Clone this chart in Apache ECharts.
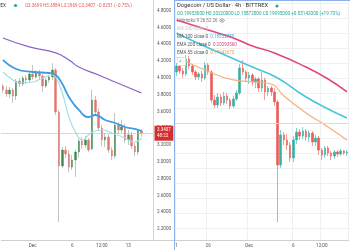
<!DOCTYPE html>
<html><head><meta charset="utf-8">
<script src="https://cdn.jsdelivr.net/npm/echarts@6/dist/echarts.min.js"></script>
<style>html,body{margin:0;padding:0;background:#fff}#c{width:350px;height:250px}</style>
</head><body><div id="c"></div>
<script>
// ---------- LEFT CHART DATA ----------
const leftCategories = Array.from({length: 46}, (_, i) => 'L' + i);
const leftTickLabels = [[9, 'Dec'], [21, '6'], [30, '12:00'], [38, '13']];
// [open, close, low, high]
const leftOHLC = [
  [3.9024, 3.8548, 3.8190, 3.9262], [3.8548, 3.8071, 3.7714, 3.9024], [3.8071, 3.8548, 3.7595, 3.8905],
  [3.8548, 3.7833, 3.7000, 3.8786], [3.7833, 3.9619, 3.7357, 3.9857], [3.9619, 3.9262, 3.8905, 3.9976],
  [3.9262, 3.9976, 3.9024, 4.0214], [3.9976, 3.9738, 3.9262, 4.0333], [3.9738, 4.0452, 3.9500, 4.0690],
  [4.0452, 4.0095, 3.9738, 4.1524], [4.0095, 4.0690, 3.9857, 4.0929], [4.0690, 4.0214, 3.9738, 4.0929],
  [4.0214, 3.9024, 3.8310, 4.0452], [3.9024, 3.9738, 3.8786, 3.9976], [3.9738, 4.0095, 3.9381, 4.0333],
  [4.0095, 4.0929, 3.9738, 4.1762], [4.0929, 3.5929, 3.5571, 4.1167], [3.5929, 2.9500, 2.2833, 3.6167],
  [2.9500, 3.1405, 2.9262, 3.1762], [3.1405, 3.0929, 3.0452, 3.1881], [3.0929, 2.9381, 2.8786, 3.1405],
  [2.9381, 3.0214, 2.9024, 3.0810], [3.0214, 3.1167, 2.8190, 3.1405], [3.1167, 3.2476, 3.0452, 3.2714],
  [3.2476, 3.2000, 3.1524, 3.2952], [3.2000, 3.2595, 3.1643, 3.3071], [3.2595, 3.1405, 3.1167, 3.2833],
  [3.1524, 3.7357, 3.1405, 3.8548], [3.7357, 3.5929, 3.5452, 3.7833], [3.5929, 3.4024, 3.3667, 3.6405],
  [3.4024, 3.2595, 3.1881, 3.4381], [3.2595, 3.2952, 3.1762, 3.3429], [3.2952, 3.1405, 3.1048, 3.3310],
  [3.1405, 3.0690, 3.0214, 3.1762], [3.0690, 3.4381, 3.0452, 3.5810], [3.4381, 3.3786, 3.3310, 3.4738],
  [3.3786, 3.4143, 3.3429, 3.4976], [3.4143, 3.2595, 3.2238, 3.4500], [3.2595, 3.3190, 3.2000, 3.3786],
  [3.3190, 3.1881, 3.1524, 3.3548], [3.1881, 3.1167, 3.0690, 3.2238], [3.1167, 3.3699, 3.0810, 3.3905],
  [3.3699, 3.3407, 3.2969, 3.3884]
];
const leftPurple = [[0, 4.4738], [8, 4.3667], [16, 4.2952], [20, 4.2119], [23, 4.1286], [29, 4.0333], [34, 3.95], [42, 3.819]];
const leftBlue = [[0, 4.2119], [4, 4.1048], [9, 4.069], [14, 4.0571], [16, 4.0333], [18, 3.9262], [20, 3.7714], [23, 3.6167], [26, 3.5333], [28, 3.5571], [31, 3.4976], [34, 3.4619], [37, 3.4143], [40, 3.3905], [42, 3.3667]];
const leftCyan = [[0, 4.069], [3, 3.9738], [5, 3.9381], [9, 3.95], [12, 3.9976], [15, 4.0333], [16, 4.0095], [18, 3.819], [20, 3.5333], [22, 3.3548], [24, 3.2595], [27, 3.3548], [30, 3.3786], [33, 3.3429], [37, 3.2833], [40, 3.2357], [42, 3.2833]];
const leftLastPrice = 3.3407;
const leftCountdown = '48:22';
const leftLegend = 'O3.3699 H3.3884 L3.2969 C3.3407 \u22120.0251 (\u22120.75%)';

// ---------- RIGHT CHART DATA ----------
const rightCategories = Array.from({length: 55}, (_, i) => 'R' + i);
const rightTickLabels = [[0, '1'], [10, '26'], [23, 'Dec'], [37, '6'], [46, '12:00']];
const rightOHLC = [
  [0.2340, 0.2380, 0.2313, 0.2400], [0.2380, 0.2347, 0.2327, 0.2400], [0.2347, 0.2327, 0.2300, 0.2367],
  [0.2327, 0.2427, 0.2313, 0.2453], [0.2427, 0.2380, 0.2360, 0.2447], [0.2380, 0.2340, 0.2320, 0.2393],
  [0.2340, 0.2307, 0.2287, 0.2353], [0.2307, 0.2327, 0.2287, 0.2340], [0.2327, 0.2300, 0.2273, 0.2347],
  [0.2300, 0.2387, 0.2287, 0.2407], [0.2387, 0.2340, 0.2320, 0.2400], [0.2340, 0.2153, 0.2133, 0.2353],
  [0.2153, 0.2120, 0.2100, 0.2187], [0.2120, 0.2173, 0.2100, 0.2200], [0.2173, 0.2133, 0.2113, 0.2193],
  [0.2133, 0.2180, 0.2120, 0.2207], [0.2180, 0.2153, 0.2127, 0.2200], [0.2153, 0.2113, 0.2093, 0.2167],
  [0.2113, 0.2160, 0.2100, 0.2180], [0.2160, 0.2200, 0.2147, 0.2220], [0.2200, 0.2367, 0.2187, 0.2393],
  [0.2367, 0.2340, 0.2320, 0.2420], [0.2340, 0.2300, 0.2273, 0.2353], [0.2300, 0.2320, 0.2260, 0.2340],
  [0.2320, 0.2273, 0.2247, 0.2333], [0.2273, 0.2293, 0.2233, 0.2307], [0.2293, 0.2233, 0.2207, 0.2307],
  [0.2233, 0.2287, 0.2207, 0.2340], [0.2287, 0.2207, 0.2153, 0.2300], [0.2207, 0.2233, 0.2180, 0.2247],
  [0.2233, 0.2207, 0.2180, 0.2247], [0.2207, 0.2140, 0.2113, 0.2233], [0.2140, 0.1720, 0.1340, 0.2153],
  [0.1720, 0.1920, 0.1700, 0.1953], [0.1920, 0.1887, 0.1853, 0.1940], [0.1887, 0.1853, 0.1820, 0.1927],
  [0.1853, 0.1767, 0.1740, 0.1873], [0.1767, 0.1887, 0.1740, 0.1913], [0.1887, 0.1940, 0.1860, 0.1967],
  [0.1940, 0.1913, 0.1887, 0.1960], [0.1913, 0.1947, 0.1893, 0.1973], [0.1947, 0.1907, 0.1880, 0.1960],
  [0.1907, 0.1933, 0.1873, 0.1953], [0.1933, 0.1873, 0.1847, 0.1947], [0.1873, 0.1900, 0.1847, 0.1920],
  [0.1900, 0.1820, 0.1787, 0.1913], [0.1820, 0.1787, 0.1753, 0.1833], [0.1787, 0.1833, 0.1767, 0.1847],
  [0.1833, 0.1800, 0.1780, 0.1847], [0.1800, 0.1780, 0.1753, 0.1813], [0.1780, 0.1807, 0.1760, 0.1820],
  [0.1807, 0.1793, 0.1773, 0.1820], [0.1793, 0.1813, 0.1780, 0.1827], [0.1813, 0.1800, 0.1787, 0.1820],
  [0.1800, 0.1807, 0.1780, 0.1820]
];
const rightMA100 = [[0, 0.26], [8, 0.252], [16, 0.2447], [24, 0.2373], [32, 0.23], [40, 0.2187], [48, 0.2093], [54, 0.2033]];
const rightEMA200 = [[0, 0.2687], [10, 0.262], [18, 0.2567], [24, 0.2513], [31, 0.2467], [41, 0.2373], [48, 0.2293], [54, 0.2207]];
const rightEMA55 = [[0, 0.244], [9, 0.2353], [18, 0.2287], [25, 0.2273], [30, 0.226], [34, 0.218], [41, 0.2067], [47, 0.1987], [54, 0.1887]];
const rightHLine = 0.2022;
const rightTitle = 'Dogecoin / US Dollar \u00b7 4h \u00b7 BITTREX';
const rightOHLCText = 'O0.19953000 H0.20220000 L0.15872000 C0.19095000 +0.03142000 (+19.70%)';
const rightIndicators = [
  ['Ichimoku 9 26 52 26', ''],
  ['MA 200 close 0', ''],
  ['MA 100 close 0', '0.18552750'],
  ['EMA 200 close 0', '0.20293560'],
  ['EMA 55 close 0', '0.17342675']
];

// ---------- CHART ----------
const FONT = 'Roboto, sans-serif';
const leftUp = '#3f8a4f', leftDown = '#e5736b';
const rightUp = '#35b0a2', rightDown = '#ef5a57';

const leftLabelMap = Object.fromEntries(leftTickLabels);
const rightLabelMap = Object.fromEntries(rightTickLabels);
const rightTickSet = new Set(rightTickLabels.map(d => d[0]));

const chart = echarts.init(document.getElementById('c'), null, {renderer: 'canvas'});

const txt = (x, y, text, fill, size, align) => ({
  type: 'text', x: x, y: y, z: 100,
  style: {text: text, fill: fill, fontSize: size, fontFamily: FONT, verticalAlign: 'middle', align: align || 'left'}
});

const indicatorColors = ['#777', '#c8c8c8', '#555', '#555', '#555'];
const indicatorValueColors = ['#777', '#c8c8c8', '#2fb8d2', '#e0407a', '#f09a55'];
const indicatorY = [20.5, 28.5, 37, 45, 53];

const graphics = [
  // left legend
  txt(6, 5.5, 'BITTREX', '#444', 4.6, 'right'),
  {type: 'circle', shape: {cx: 15.5, cy: 5.5, r: 1.6}, style: {fill: '#26a69a'}, z: 100},
  txt(25, 5.5, leftLegend, '#ef5350', 4.5),
  // right legend
  txt(177, 6, rightTitle, '#333', 5.8),
  {type: 'circle', shape: {cx: 277, cy: 6, r: 1.6}, style: {fill: '#26a69a'}, z: 100},
  txt(177, 13.5, rightOHLCText, '#26a69a', 4.6),
  // collapse button
  {type: 'rect', shape: {x: 177.5, y: 57.5, width: 8, height: 8, r: 1}, style: {fill: '#fff', stroke: '#ddd', lineWidth: 0.8}, z: 100},
  txt(179.3, 62.5, '^', '#666', 5),
  // frame lines
  {type: 'line', shape: {x1: 153, y1: 240.5, x2: 174, y2: 240.5}, style: {stroke: '#cfcfcf', lineWidth: 1}, z: 50},
  {type: 'line', shape: {x1: 174.5, y1: 0, x2: 174.5, y2: 250}, style: {stroke: '#8fb0ee', lineWidth: 1}, z: 50},
  {type: 'line', shape: {x1: 175, y1: 0.5, x2: 350, y2: 0.5}, style: {stroke: '#8fb0ee', lineWidth: 1}, z: 50}
];
rightIndicators.forEach((it, k) => {
  graphics.push({
    type: 'text', x: 177, y: indicatorY[k], z: 100,
    style: {
      text: '{a|' + it[0] + '}' + (it[1] ? '  {b|' + it[1] + '}' : ''),
      verticalAlign: 'middle', fontFamily: FONT, fontSize: 4.5,
      rich: {
        a: {fill: indicatorColors[k], fontSize: 4.5, fontFamily: FONT},
        b: {fill: indicatorValueColors[k], fontSize: 4.5, fontFamily: FONT}
      }
    }
  });
});
// eye icon next to Ichimoku
graphics.push({type: 'ellipse', shape: {cx: 222, cy: 20.5, rx: 2.4, ry: 1.5}, style: {fill: 'none', stroke: '#777', lineWidth: 0.7}, z: 100});
graphics.push({type: 'circle', shape: {cx: 222, cy: 20.5, r: 0.7}, style: {fill: '#777'}, z: 100});

const option = {
  animation: false,
  backgroundColor: '#fff',
  textStyle: {fontFamily: FONT},
  grid: [
    {left: 0, top: 0, width: 153, height: 240},
    {left: 175, top: 0, width: 175, height: 240}
  ],
  xAxis: [
    {
      type: 'category', gridIndex: 0, data: leftCategories, boundaryGap: true,
      axisLine: {show: true, lineStyle: {color: '#cfcfcf'}},
      axisTick: {show: false}, splitLine: {show: false},
      axisLabel: {interval: 0, fontSize: 4.6, color: '#555', margin: 3, formatter: (v, i) => leftLabelMap[i] || ''}
    },
    {
      type: 'category', gridIndex: 1, data: rightCategories, boundaryGap: true,
      axisLine: {show: true, lineStyle: {color: '#cfcfcf'}},
      axisTick: {show: false},
      splitLine: {show: true, interval: (i) => rightTickSet.has(i), lineStyle: {color: '#eef0f4'}},
      axisLabel: {interval: 0, fontSize: 4.6, color: '#555', margin: 3, formatter: (v, i) => rightLabelMap[i] || ''}
    }
  ],
  yAxis: [
    {
      type: 'value', gridIndex: 0, position: 'right', min: 2.069, max: 4.926, splitNumber: 14,
      axisLine: {show: true, lineStyle: {color: '#d6d6d6'}},
      axisTick: {show: false}, splitLine: {show: false},
      axisLabel: {fontSize: 4.6, color: '#555', margin: 4, showMinLabel: false, showMaxLabel: false, formatter: v => v.toFixed(4)}
    },
    {
      type: 'value', gridIndex: 1, position: 'right', min: 0.122, max: 0.282, splitNumber: 16,
      axisLine: {show: false}, axisTick: {show: false},
      axisLabel: {show: false},
      splitLine: {show: true, lineStyle: {color: '#eef0f4'}}
    }
  ],
  series: [
    // left wicks
    {
      type: 'candlestick', xAxisIndex: 0, yAxisIndex: 0, data: leftOHLC, barWidth: 0.6,
      itemStyle: {color: 'transparent', color0: 'transparent', borderColor: '#b5b5b5', borderColor0: '#b5b5b5', borderWidth: 0.8}
    },
    // left bodies
    {
      type: 'candlestick', xAxisIndex: 0, yAxisIndex: 0, barWidth: 2,
      data: leftOHLC.map(d => [d[0], d[1], Math.min(d[0], d[1]), Math.max(d[0], d[1])]),
      itemStyle: {color: leftUp, color0: leftDown, borderColor: leftUp, borderColor0: leftDown, borderWidth: 0.4},
      markLine: {
        silent: true, symbol: 'none', animation: false,
        data: [{yAxis: leftLastPrice}],
        lineStyle: {color: '#ef9a9a', type: 'dotted', width: 1},
        label: {
          position: 'end', distance: 1.5, formatter: leftLastPrice.toFixed(4) + '\n' + leftCountdown,
          backgroundColor: '#d32f2f', color: '#fff', fontSize: 4.5, lineHeight: 6, padding: [1.5, 2.5]
        }
      }
    },
    {type: 'line', xAxisIndex: 0, yAxisIndex: 0, data: leftPurple, smooth: true, showSymbol: false, lineStyle: {color: '#8a63c8', width: 1.3}},
    {type: 'line', xAxisIndex: 0, yAxisIndex: 0, data: leftCyan, smooth: true, showSymbol: false, lineStyle: {color: '#a3dfe9', width: 1.2}},
    {type: 'line', xAxisIndex: 0, yAxisIndex: 0, data: leftBlue, smooth: true, showSymbol: false, lineStyle: {color: '#3f9be2', width: 1.8}},
    // right candles
    {
      type: 'candlestick', xAxisIndex: 1, yAxisIndex: 1, data: rightOHLC, barWidth: 2,
      itemStyle: {color: rightUp, color0: rightDown, borderColor: rightUp, borderColor0: rightDown, borderWidth: 0.6},
      markLine: {
        silent: true, symbol: 'none', animation: false, label: {show: false},
        data: [{yAxis: rightHLine}],
        lineStyle: {color: '#b9e7ef', type: 'solid', width: 1}
      }
    },
    {type: 'line', xAxisIndex: 1, yAxisIndex: 1, data: rightEMA200, smooth: true, showSymbol: false, lineStyle: {color: '#e2467f', width: 1.6}},
    {type: 'line', xAxisIndex: 1, yAxisIndex: 1, data: rightMA100, smooth: true, showSymbol: false, lineStyle: {color: '#47c6dc', width: 1.6}},
    {type: 'line', xAxisIndex: 1, yAxisIndex: 1, data: rightEMA55, smooth: true, showSymbol: false, lineStyle: {color: '#f5b07a', width: 1.2}}
  ],
  graphic: graphics
};
chart.setOption(option);
</script></body></html>
